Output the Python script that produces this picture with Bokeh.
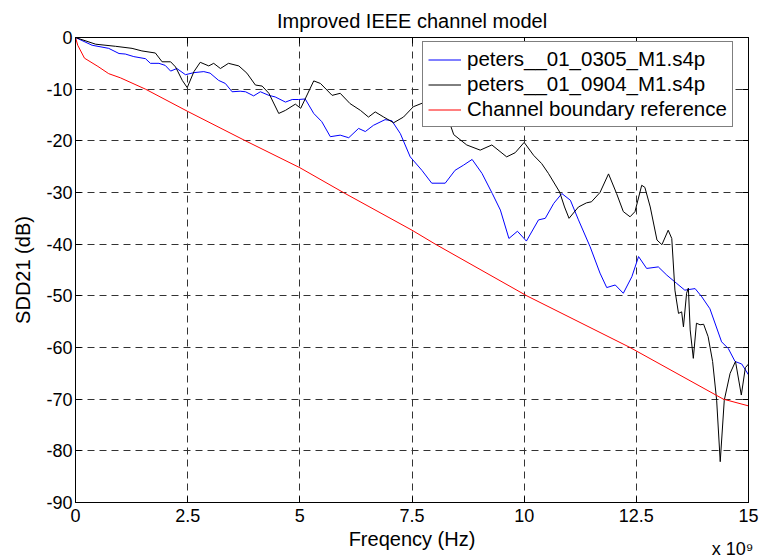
from bokeh.plotting import figure
from bokeh.models import (Range1d, LinearAxis, FixedTicker, CustomJSTickFormatter,
                          Legend, LegendItem, Title)
from bokeh.embed import file_html
from bokeh.resources import INLINE

# ---------------- data (frequency in GHz, SDD21 in dB) ----------------
f_0305 = [0, 0.37, 0.74, 0.97, 1.11, 1.3, 1.56, 1.67, 1.86, 2.0, 2.12, 2.26, 2.45, 2.64, 2.86,
          3.0, 3.19, 3.34, 3.49, 3.67, 3.79, 3.97, 4.12, 4.31, 4.45, 4.68, 4.83, 4.97, 5.12,
          5.31, 5.49, 5.68, 5.9, 6.09, 6.31, 6.46, 6.64, 6.9, 7.05, 7.24, 7.46, 7.72, 7.94,
          8.24, 8.46, 8.65, 8.84, 9.06, 9.29, 9.47, 9.66, 9.85, 10.05, 10.32, 10.47, 10.66,
          10.84, 11.03, 11.21, 11.47, 11.69, 11.84, 12.03, 12.21, 12.4, 12.55, 12.73, 12.99,
          13.18, 13.4, 13.58, 13.81, 13.96, 14.14, 14.4, 14.55, 14.7, 14.85, 15.0]
s_0305 = [0, -1.5, -2.1, -3.1, -3.2, -3.7, -4.1, -5.0, -5.0, -5.4, -6.5, -6.0, -7.2, -6.8, -6.6,
          -6.9, -8.3, -8.9, -10.5, -10.4, -10.5, -11.3, -10.5, -11.2, -11.5, -12.5, -12.0, -12.0, -11.9,
          -14.7, -16.3, -19.2, -18.9, -19.4, -17.6, -18.2, -17.0, -15.9, -16.1, -18.6, -23.1, -25.7, -28.2,
          -28.2, -25.7, -24.7, -23.6, -26.3, -30.2, -33.4, -38.9, -37.5, -39.4, -35.3, -35.0, -32.1,
          -30.2, -31.5, -35.3, -40.5, -45.6, -48.4, -47.9, -49.5, -46.3, -42.4, -44.7, -44.4,
          -46.0, -47.6, -48.9, -48.6, -50.2, -52.5, -58.9, -60.2, -62.7, -63.2, -65.3]

f_0904 = [0, 0.45, 0.89, 1.26, 1.48, 1.78, 1.93, 2.12, 2.23, 2.38, 2.49, 2.64, 2.78, 2.97, 3.08,
          3.23, 3.41, 3.64, 3.82, 4.01, 4.16, 4.31, 4.53, 4.68, 4.9, 5.02, 5.31, 5.46, 5.72, 5.9,
          6.12, 6.35, 6.53, 6.68, 6.87, 7.09, 7.31, 7.53, 7.76, 7.95, 8.15, 8.35, 8.43, 8.72, 9.02,
          9.28, 9.61, 9.8, 10.0, 10.21, 10.39, 10.54, 10.79, 10.9, 11.0, 11.21, 11.39, 11.5, 11.69,
          11.88, 12.06, 12.21, 12.36, 12.47, 12.62, 12.69, 12.81, 12.96, 13.07, 13.21, 13.29, 13.36,
          13.44, 13.51, 13.55, 13.62, 13.66, 13.7, 13.77, 13.84, 13.92, 14.0, 14.1, 14.2, 14.29,
          14.37, 14.46, 14.59, 14.71, 14.84, 14.93, 15.0]
s_0904 = [0, -1.3, -1.7, -2.1, -2.6, -3.0, -4.7, -4.7, -5.7, -8.3, -9.7, -6.6, -4.8, -5.5, -5.0,
          -6.0, -5.0, -5.5, -6.9, -9.2, -9.4, -10.8, -14.7, -14.1, -12.9, -13.7, -8.4, -8.9, -11.2, -10.8,
          -12.8, -14.1, -15.4, -14.4, -15.4, -16.5, -15.4, -13.4, -12.6, -11.8, -13.5, -16.8, -18.8, -20.8, -21.8,
          -20.8, -23.1, -22.3, -20.3, -22.8, -24.4, -26.3, -29.9, -32.8, -35.0, -32.8, -32.0, -31.8, -30.0,
          -26.4, -30.2, -33.7, -34.7, -33.7, -28.6, -29.0, -32.8, -39.2, -40.1, -37.3, -38.9, -48.9,
          -53.4, -53.1, -56.0, -49.5, -48.5, -56.6, -62.1, -55.3, -55.6, -55.5, -57.9, -62.7, -70.2,
          -82.1, -70.2, -65.0, -62.7, -69.2, -63.9, -63.2]

f_ref = [0, 0.05, 0.2, 0.5, 0.74, 1.0, 1.56, 2.5, 3.79, 5.0, 5.97, 7.5, 8.02, 10.06, 12.36, 14.44, 15.0]
s_ref = [0, -1.5, -4.0, -5.6, -7.0, -7.8, -10.0, -14.3, -20.0, -25.2, -30.0, -37.3, -40.0, -50.0,
         -60.0, -70.0, -71.3]

x_ticks = [0, 2.5, 5, 7.5, 10, 12.5, 15]
y_ticks = [0, -10, -20, -30, -40, -50, -60, -70, -80, -90]

title_text = "Improved IEEE channel model"
x_label = "Freqency (Hz)"
y_label = "SDD21 (dB)"
names = ["peters__01_0305_M1.s4p", "peters__01_0904_M1.s4p", "Channel boundary reference"]
exp_text = "x 10\u2079"

FONT = "Liberation Sans"
FS_TICK = "18px"
FS_TEXT = "20px"

p = figure(width=773, height=559, output_backend="svg", toolbar_location=None,
           x_range=Range1d(0, 15), y_range=Range1d(-90, 0),
           min_border_left=75, min_border_right=25, min_border_top=37, min_border_bottom=57)
p.background_fill_color = "white"
p.border_fill_color = "white"
p.outline_line_color = "black"
p.outline_line_width = 1

p.title.text = title_text
p.title.align = "center"
p.title.text_font = FONT
p.title.text_font_size = FS_TEXT
p.title.text_font_style = "normal"
p.title.text_color = "black"
p.title.standoff = 12

plain = CustomJSTickFormatter(code="return tick.toString();")
for ax in (p.xaxis[0], p.yaxis[0]):
    ax.major_tick_in = 6
    ax.major_tick_out = 0
    ax.minor_tick_line_color = None
    ax.major_label_text_font = FONT
    ax.major_label_text_font_size = FS_TICK
    ax.major_label_text_color = "black"
    ax.axis_label_text_font = FONT
    ax.axis_label_text_font_size = FS_TEXT
    ax.axis_label_text_font_style = "normal"
    ax.axis_label_text_color = "black"
    ax.axis_line_color = "black"
    ax.major_tick_line_color = "black"
    ax.formatter = plain

p.xaxis[0].ticker = FixedTicker(ticks=x_ticks)
p.xaxis[0].axis_label = x_label
p.xaxis[0].major_label_standoff = 6
p.xaxis[0].axis_label_standoff = 3
p.yaxis[0].ticker = FixedTicker(ticks=y_ticks)
p.yaxis[0].axis_label = y_label
p.yaxis[0].major_label_standoff = 3
p.yaxis[0].axis_label_standoff = 9

# mirrored tick marks on the top and right (no labels)
blank = CustomJSTickFormatter(code="return '';")
top_ax = LinearAxis(ticker=FixedTicker(ticks=x_ticks), formatter=blank,
                    major_tick_in=6, major_tick_out=0, minor_tick_line_color=None,
                    major_label_standoff=0, axis_line_color="black")
right_ax = LinearAxis(ticker=FixedTicker(ticks=y_ticks), formatter=blank,
                      major_tick_in=6, major_tick_out=0, minor_tick_line_color=None,
                      major_label_standoff=0, axis_line_color="black")
p.add_layout(top_ax, "above")
p.add_layout(right_ax, "right")

p.xgrid.ticker = FixedTicker(ticks=x_ticks)
p.ygrid.ticker = FixedTicker(ticks=y_ticks)
for g in (p.xgrid[0], p.ygrid[0]):
    g.grid_line_color = "#333333"
    g.grid_line_dash = "7 5"
    g.grid_line_width = 1
    g.grid_line_alpha = 1.0

r1 = p.line(f_0305, s_0305, line_color="#0000ff", line_width=1)
r2 = p.line(f_0904, s_0904, line_color="#000000", line_width=1)
r3 = p.line(f_ref, s_ref, line_color="#ff0000", line_width=1)

legend = Legend(items=[LegendItem(label=names[0], renderers=[r1]),
                       LegendItem(label=names[1], renderers=[r2]),
                       LegendItem(label=names[2], renderers=[r3])],
                location=(347, 375))
legend.label_text_font = "Arial"
legend.label_text_font_size = "20.5px"
legend.label_text_color = "black"
legend.border_line_color = "black"
legend.border_line_width = 1
legend.background_fill_color = "white"
legend.background_fill_alpha = 1.0
legend.glyph_width = 33
legend.glyph_height = 21
legend.label_height = 21
legend.label_standoff = 6
legend.spacing = 1
legend.padding = 5
legend.margin = 0
p.add_layout(legend, "center")

# exponent marker below the x axis, at the right end
exp_title = Title(text=exp_text, align="right", vertical_align="top", offset=-5,
                  text_font="Arial", text_font_size="18px", text_font_style="normal",
                  text_color="black")
try:
    exp_title.standoff = -28
except Exception:
    exp_title.standoff = 0
p.add_layout(exp_title, "below")

open("out.html", "w").write(file_html(p, INLINE))
